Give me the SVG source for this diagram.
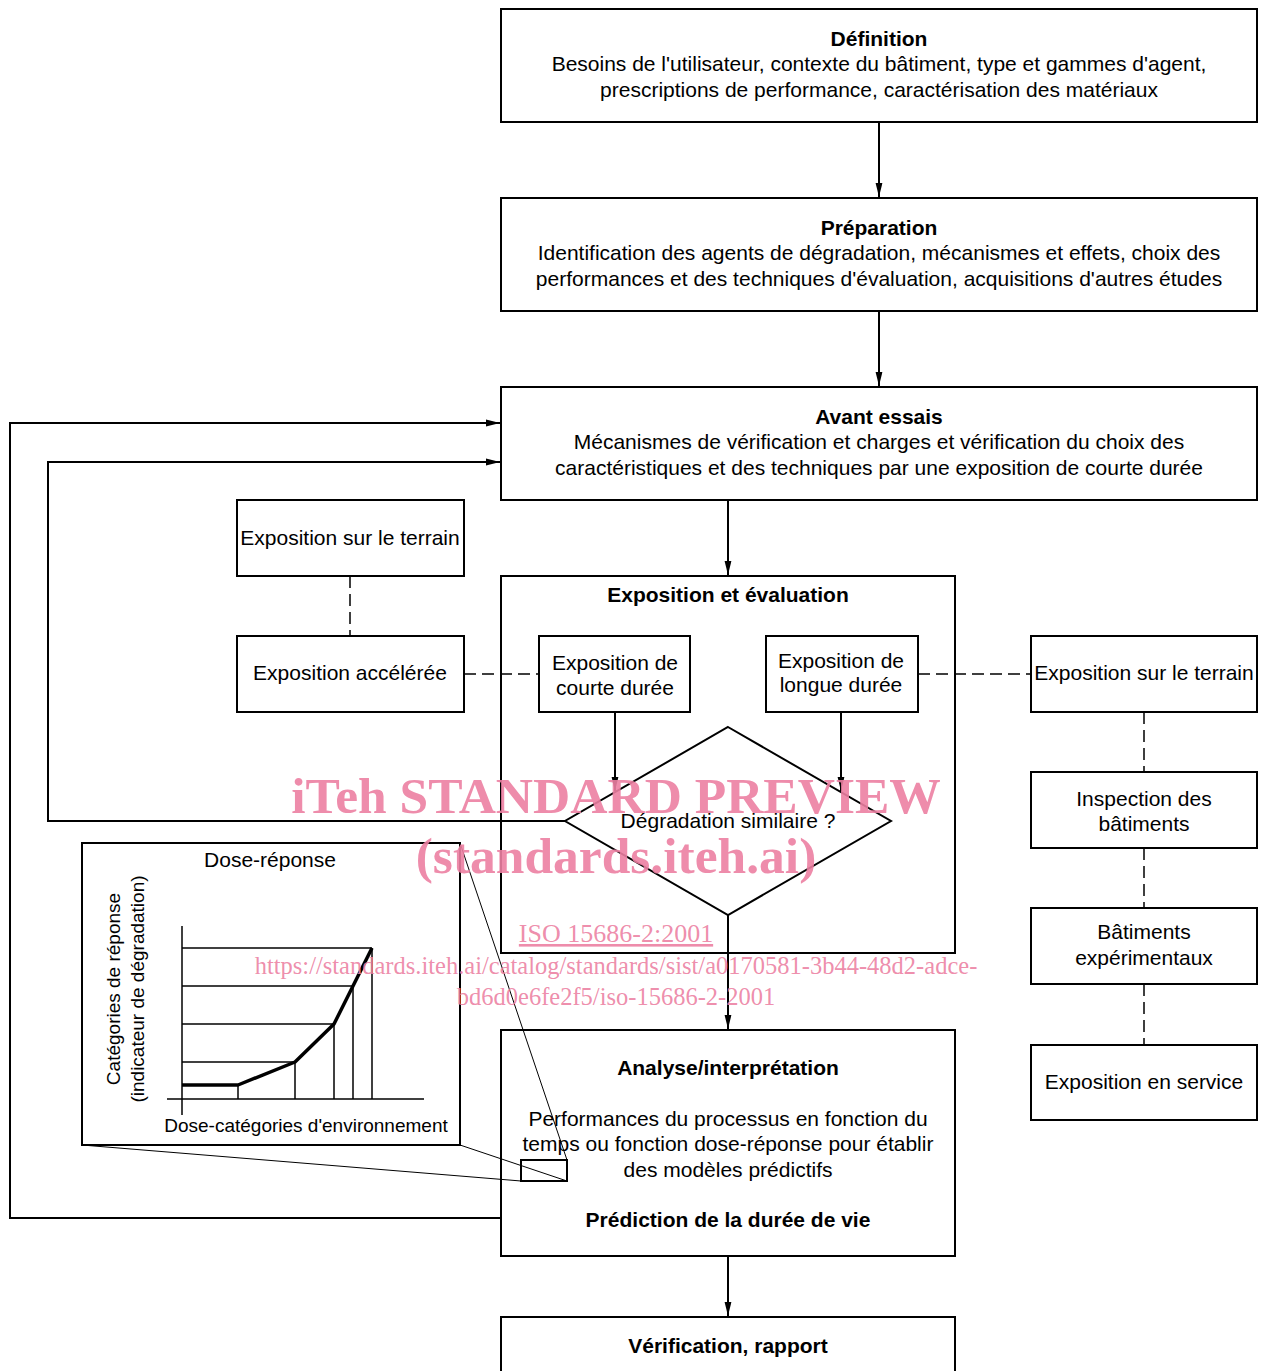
<svg xmlns="http://www.w3.org/2000/svg" width="1261" height="1371" viewBox="0 0 1261 1371">
<style>
.box{fill:#fff;stroke:#000;stroke-width:2}
.t{font-family:"Liberation Sans",Arial,sans-serif;font-size:21px;fill:#000;text-anchor:middle}
.s{font-size:19px}
.b{font-weight:bold}
.ln{fill:none;stroke:#000;stroke-width:2}
.dash{fill:none;stroke:#000;stroke-width:1.5;stroke-dasharray:12,6}
.thin{fill:none;stroke:#000;stroke-width:1}
.ch{fill:none;stroke:#000;stroke-width:1.5}
.wm{font-family:"Liberation Serif","Times New Roman",serif;fill:#ec7fa2;fill-opacity:0.9;text-anchor:middle}
</style>
<defs>
<marker id="ah" viewBox="0 0 14 8" refX="14" refY="4" markerWidth="14" markerHeight="8" markerUnits="userSpaceOnUse" orient="auto">
<path d="M0,0.6 L14,4 L0,7.4 Z" fill="#000"/>
</marker>
</defs>
<rect width="1261" height="1371" fill="#fff"/>

<g id="connectors">
<line class="ln" x1="879" y1="122" x2="879" y2="197" marker-end="url(#ah)"/>
<line class="ln" x1="879" y1="311" x2="879" y2="386" marker-end="url(#ah)"/>
<line class="ln" x1="728" y1="500" x2="728" y2="575" marker-end="url(#ah)"/>
<line class="ln" x1="615" y1="712" x2="615" y2="791" marker-end="url(#ah)"/>
<line class="ln" x1="841" y1="712" x2="841" y2="791" marker-end="url(#ah)"/>
<line class="ln" x1="728" y1="915" x2="728" y2="1029" marker-end="url(#ah)"/>
<line class="ln" x1="728" y1="1256" x2="728" y2="1316" marker-end="url(#ah)"/>
<polyline class="ln" points="565,821 48,821 48,462 500,462" marker-end="url(#ah)"/>
<polyline class="ln" points="501,1218 10,1218 10,423 500,423" marker-end="url(#ah)"/>
<line class="dash" x1="350" y1="576" x2="350" y2="636"/>
<line class="dash" x1="464" y1="674" x2="539" y2="674"/>
<line class="dash" x1="918" y1="674" x2="1031" y2="674"/>
<line class="dash" x1="1144" y1="712" x2="1144" y2="772"/>
<line class="dash" x1="1144" y1="848" x2="1144" y2="908"/>
<line class="dash" x1="1144" y1="984" x2="1144" y2="1045"/>
</g>

<g id="definition">
<rect class="box" x="501" y="9" width="756" height="113"/>
<text class="t b" x="879" y="46">Définition</text>
<text class="t" x="879" y="71">Besoins de l'utilisateur, contexte du bâtiment, type et gammes d'agent,</text>
<text class="t" x="879" y="97">prescriptions de performance, caractérisation des matériaux</text>
</g>

<g id="preparation">
<rect class="box" x="501" y="198" width="756" height="113"/>
<text class="t b" x="879" y="235">Préparation</text>
<text class="t" x="879" y="260">Identification des agents de dégradation, mécanismes et effets, choix des</text>
<text class="t" x="879" y="286">performances et des techniques d'évaluation, acquisitions d'autres études</text>
</g>

<g id="avant-essais">
<rect class="box" x="501" y="387" width="756" height="113"/>
<text class="t b" x="879" y="424">Avant essais</text>
<text class="t" x="879" y="449">Mécanismes de vérification et charges et vérification du choix des</text>
<text class="t" x="879" y="475">caractéristiques et des techniques par une exposition de courte durée</text>
</g>

<g id="exposition-terrain-gauche">
<rect class="box" x="237" y="500" width="227" height="76"/>
<text class="t" x="350" y="545">Exposition sur le terrain</text>
</g>

<g id="exposition-acceleree">
<rect class="box" x="237" y="636" width="227" height="76"/>
<text class="t" x="350" y="680">Exposition accélérée</text>
</g>

<g id="exposition-evaluation">
<rect x="501" y="576" width="454" height="377" fill="none" stroke="#000" stroke-width="2"/>
<text class="t b" x="728" y="602">Exposition et évaluation</text>
</g>

<g id="courte-duree">
<rect class="box" x="539" y="636" width="151" height="76"/>
<text class="t" x="615" y="670">Exposition de</text>
<text class="t" x="615" y="695">courte durée</text>
</g>

<g id="longue-duree">
<rect class="box" x="766" y="636" width="152" height="76"/>
<text class="t" x="841" y="668">Exposition de</text>
<text class="t" x="841" y="692">longue durée</text>
</g>

<g id="degradation-similaire">
<polygon class="box" points="728,727 891,821 728,915 565,821"/>
<text class="t" x="728" y="828">Dégradation similaire ?</text>
</g>

<g id="exposition-terrain-droite">
<rect class="box" x="1031" y="636" width="226" height="76"/>
<text class="t" x="1144" y="680">Exposition sur le terrain</text>
</g>

<g id="inspection">
<rect class="box" x="1031" y="772" width="226" height="76"/>
<text class="t" x="1144" y="806">Inspection des</text>
<text class="t" x="1144" y="831">bâtiments</text>
</g>

<g id="batiments-experimentaux">
<rect class="box" x="1031" y="908" width="226" height="76"/>
<text class="t" x="1144" y="939">Bâtiments</text>
<text class="t" x="1144" y="965">expérimentaux</text>
</g>

<g id="exposition-service">
<rect class="box" x="1031" y="1045" width="226" height="75"/>
<text class="t" x="1144" y="1089">Exposition en service</text>
</g>

<g id="analyse">
<rect class="box" x="501" y="1030" width="454" height="226"/>
<text class="t b" x="728" y="1075">Analyse/interprétation</text>
<text class="t" x="728" y="1126">Performances du processus en fonction du</text>
<text class="t" x="728" y="1151">temps ou fonction dose-réponse pour établir</text>
<text class="t" x="728" y="1177">des modèles prédictifs</text>
<text class="t b" x="728" y="1227">Prédiction de la durée de vie</text>
<rect x="521" y="1160" width="46" height="21" fill="none" stroke="#000" stroke-width="2"/>
</g>

<g id="verification">
<rect class="box" x="501" y="1317" width="454" height="70"/>
<text class="t b" x="728" y="1353">Vérification, rapport</text>
</g>

<g id="dose-reponse">
<rect class="box" x="82" y="843" width="378" height="302"/>
<text class="t" x="270" y="867">Dose-réponse</text>
<text class="t s" transform="translate(120,989) rotate(-90)">Catégories de réponse</text>
<text class="t s" transform="translate(144,989) rotate(-90)">(indicateur de dégradation)</text>
<text class="t s" x="306" y="1132">Dose-catégories d'environnement</text>
<line class="ch" x1="182" y1="926" x2="182" y2="1115"/>
<line class="ch" x1="167" y1="1099" x2="424" y2="1099"/>
<line class="ch" x1="182" y1="948" x2="372" y2="948"/>
<line class="ch" x1="182" y1="986" x2="353" y2="986"/>
<line class="ch" x1="182" y1="1024" x2="334" y2="1024"/>
<line class="ch" x1="182" y1="1062" x2="295" y2="1062"/>
<line class="ch" x1="238" y1="1085" x2="238" y2="1099"/>
<line class="ch" x1="295" y1="1062" x2="295" y2="1099"/>
<line class="ch" x1="334" y1="1024" x2="334" y2="1099"/>
<line class="ch" x1="353" y1="986" x2="353" y2="1099"/>
<line class="ch" x1="372" y1="948" x2="372" y2="1099"/>
<polyline points="182,1085 238,1085 295,1062 334,1024 353,986 372,948" fill="none" stroke="#000" stroke-width="3.5" stroke-linejoin="round"/>
</g>

<g id="zoom-lines">
<line class="thin" x1="460" y1="843" x2="567" y2="1160"/>
<line class="thin" x1="460" y1="1145" x2="567" y2="1181"/>
<line class="thin" x1="82" y1="1145" x2="521" y2="1181"/>
</g>

<g id="watermark">
<text class="wm" x="616" y="813" style="font-size:51.5px;font-weight:bold">iTeh STANDARD PREVIEW</text>
<text class="wm" x="616" y="873" style="font-size:51.5px;font-weight:bold">(standards.iteh.ai)</text>
<text class="wm" x="616" y="942" style="font-size:26px;text-decoration:underline">ISO 15686-2:2001</text>
<text class="wm" x="616" y="974" style="font-size:24.5px">https://standards.iteh.ai/catalog/standards/sist/a0170581-3b44-48d2-adce-</text>
<text class="wm" x="616" y="1005" style="font-size:24.5px">bd6d0e6fe2f5/iso-15686-2-2001</text>
</g>
</svg>
